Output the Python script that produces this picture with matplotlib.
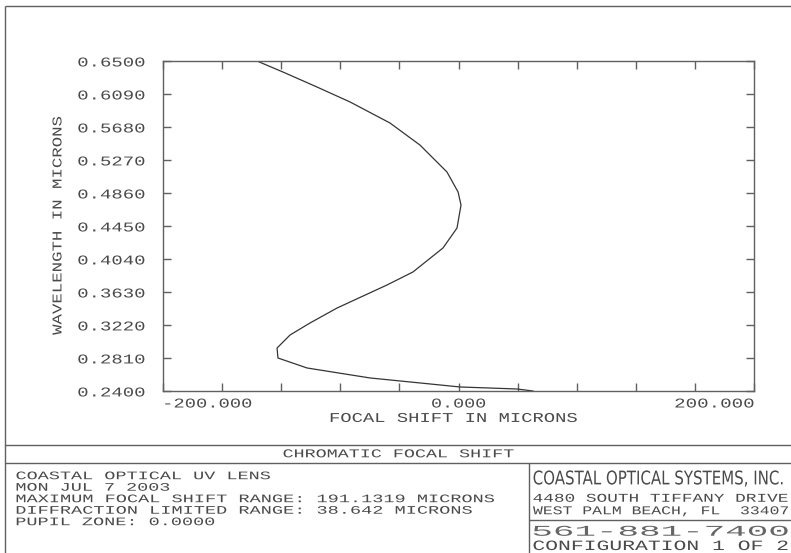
import numpy as np
import matplotlib
matplotlib.use("Agg")
import matplotlib.pyplot as plt
from matplotlib import patheffects
from matplotlib.transforms import Affine2D

# Chromatic focal shift curve
wavelength = [0.650, 0.6363, 0.6177, 0.5991, 0.5730, 0.5456, 0.5121, 0.4873,
              0.4711, 0.4500, 0.4425, 0.4177, 0.3879, 0.3717, 0.3431, 0.3245,
              0.3096, 0.2934, 0.2810, 0.2686, 0.2562, 0.2500, 0.2450, 0.2425,
              0.2400]
focal_shift = [-136.4, -118.8, -95.8, -73.4, -46.4, -26.1, -7.8, -0.3,
               1.7, -0.3, -1.0, -10.5, -30.8, -48.4, -82.2, -100.5,
               -114.0, -122.8, -122.2, -102.5, -59.9, -26.1, 1.0, 39.6,
               50.4]

y_ticks = [0.240, 0.281, 0.322, 0.363, 0.404, 0.445, 0.486, 0.527, 0.568, 0.609, 0.650]
y_tick_labels = ["0.2400", "0.2810", "0.3220", "0.3630", "0.4040", "0.4450",
                 "0.4860", "0.5270", "0.5680", "0.6090", "0.6500"]
x_ticks = [-200, -160, -120, -80, -40, 0, 40, 80, 120, 160, 200]
x_tick_labels = ["-200.000", "", "", "", "", "0.000", "", "", "", "", "200.000"]

title = "CHROMATIC FOCAL SHIFT"
info_lines = ["COASTAL OPTICAL UV LENS",
              "MON JUL 7 2003",
              "MAXIMUM FOCAL SHIFT RANGE: 191.1319 MICRONS",
              "DIFFRACTION LIMITED RANGE: 38.642 MICRONS",
              "PUPIL ZONE: 0.0000"]
company = "COASTAL OPTICAL SYSTEMS, INC."
street = "4480 SOUTH TIFFANY DRIVE"
city = "WEST PALM BEACH, FL  33407"
phone = "561-881-7400"
config = "CONFIGURATION 1 OF 2"

TXT = "#4a4a4a"
LN = "#606060"
MONO = "Liberation Mono"


class Fit(patheffects.AbstractPathEffect):
    """Stretch the glyphs so the ink spans `width` px with caps `cap` px tall
    (the plotter font is much wider than any installed one)."""

    def __init__(self, width, cap, anchor="left"):
        super().__init__()
        self.width = width
        self.cap = cap
        self.anchor = anchor

    def draw_path(self, renderer, gc, tpath, affine, rgbFace=None):
        ext = tpath.get_extents()
        m = affine.get_matrix()
        k = np.hypot(m[0, 0], m[1, 0])
        sx = self.width / ((ext.x1 - ext.x0) * k)
        top = ext.y1
        sy = self.cap / (top * k)
        ax0 = {"left": ext.x0, "center": 0.5 * (ext.x0 + ext.x1),
               "right": ext.x1}[self.anchor]
        pre = (Affine2D().translate(-ax0, -top / 2).scale(sx, sy)
               .translate(ax0, top / 2))
        renderer.draw_path(gc, tpath, pre + affine, rgbFace)


def fit(t, width, cap, anchor="left"):
    t.set_path_effects([Fit(width, cap, anchor)])


fig = plt.figure(figsize=(7.91, 5.53), dpi=100)

# page overlay in pixel coordinates for the frame and title block
pg = fig.add_axes([0, 0, 1, 1])
pg.set_xlim(0, 791)
pg.set_ylim(553, 0)
pg.axis("off")


def seg(x0, y0, x1, y1):
    pg.plot([x0, x1], [y0, y1], color=LN, lw=1.0, solid_capstyle="butt")


seg(5, 6, 791, 6)
seg(5, 6, 5, 553)
seg(5, 445, 791, 445)
seg(5, 463, 791, 463)
seg(529, 463, 529, 553)
seg(529, 520, 791, 520)

t = pg.text(398, 454, title, ha="center", va="center", family=MONO,
            fontsize=8, color=TXT)
fit(t, 230, 8, "center")

for i, s in enumerate(info_lines):
    t = pg.text(16, 476 + i * 11.5, s, ha="left", va="center", family=MONO,
                fontsize=6.8, color=TXT)
    fit(t, (len(s) - 1) * 11.2 + 7.0, 7.7)

t = pg.text(533, 478, company, ha="left", va="center", family="DejaVu Sans",
            fontsize=7, color=TXT)
fit(t, 249, 14)
t = pg.text(533, 498, street, ha="left", va="center", family=MONO,
            fontsize=7, color=TXT)
fit(t, 254, 8)
t = pg.text(533, 510.5, city, ha="left", va="center", family=MONO,
            fontsize=7, color=TXT)
fit(t, 255, 8)
t = pg.text(533, 531, phone, ha="left", va="center", family=MONO,
            fontsize=7, color="#666666")
fit(t, 254, 10)
t = pg.text(533, 545.5, config, ha="left", va="center", family=MONO,
            fontsize=7, color=TXT)
fit(t, 254, 9.5)

# the plot itself
ax = fig.add_axes([163 / 791, 1 - 391 / 553, 591 / 791, 330 / 553])
ax.plot(focal_shift, wavelength, color="#353535", lw=0.9)
ax.set_xlim(-200, 200)
ax.set_ylim(0.24, 0.65)
for sp in ax.spines.values():
    sp.set_color(LN)
    sp.set_linewidth(1.0)

ax.set_yticks(y_ticks)
ax.set_yticklabels(y_tick_labels, family=MONO, fontsize=9.8, color=TXT)
ax.set_xticks(x_ticks)
ax.set_xticklabels(x_tick_labels, family=MONO, fontsize=9.8, color=TXT)
ax.tick_params(axis="both", direction="in", length=6, width=1.0, color=LN,
               top=True, right=True)
ax.tick_params(axis="y", pad=13)
ax.tick_params(axis="x", pad=4)

for t in ax.get_yticklabels():
    fit(t, 66, 9, "right")
xl = ax.get_xticklabels()
xl[0].set_ha("left")
xl[-1].set_ha("right")
fit(xl[0], 86, 9, "left")
fit(xl[5], 53, 9, "center")
fit(xl[-1], 78, 9, "right")

ax.set_xlabel("FOCAL SHIFT IN MICRONS", family=MONO, fontsize=9.8,
              color=TXT, va="center")
ax.xaxis.set_label_coords((453 - 163) / 591, -(418 - 391) / 330)
fit(ax.xaxis.label, 246, 9, "center")
ax.set_ylabel("WAVELENGTH IN MICRONS", family=MONO, fontsize=9.8,
              color=TXT, va="center")
ax.yaxis.set_label_coords((57.5 - 163) / 591, 0.5)
fit(ax.yaxis.label, 218, 9, "center")

fig.savefig("out.png", dpi=100)
